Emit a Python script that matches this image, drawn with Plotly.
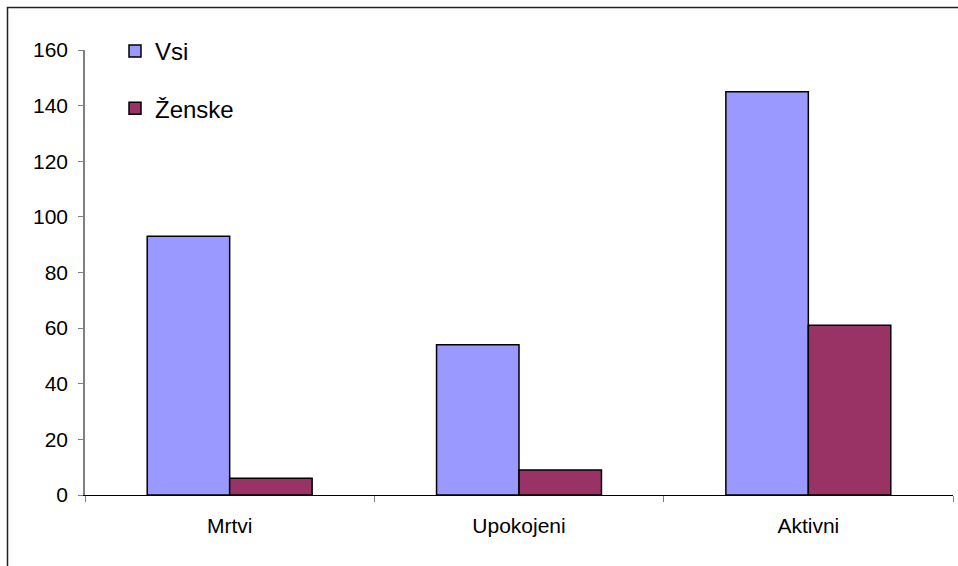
import plotly.graph_objects as go

categories = ["Mrtvi", "Upokojeni", "Aktivni"]
vsi = [93, 54, 145]
zenske = [6, 9, 61]
series_names = ["Vsi", "Ženske"]
y_ticks = [0, 20, 40, 60, 80, 100, 120, 140, 160]

W, H = 958, 566
L, R, T, B = 85, 5, 50, 71
pw, ph = W - L - R, H - T - B

def px_x(x):
    return (x - L) / pw

def px_y(y):
    return (H - B - y) / ph

fig = go.Figure()
fig.add_trace(go.Bar(x=categories, y=vsi, name=series_names[0], legendgroup="a",
                     marker=dict(color="#9999FF", line=dict(color="black", width=1.5))))
fig.add_trace(go.Bar(x=categories, y=zenske, name=series_names[1], legendgroup="b",
                     marker=dict(color="#993366", line=dict(color="black", width=1.5))))

fig.update_layout(
    width=W, height=H,
    margin=dict(l=L, r=R, t=T, b=B),
    paper_bgcolor="white", plot_bgcolor="white",
    barmode="group", bargap=0.43, bargroupgap=0,
    font=dict(family="Liberation Sans, Arial, sans-serif", color="black", size=21),
    legend=dict(x=px_x(115), y=px_y(29), xanchor="left", yanchor="top",
                font=dict(size=24), tracegroupgap=23, bgcolor="rgba(0,0,0,0)",
                itemwidth=30),
    showlegend=True,
    xaxis=dict(type="category", showline=True, linecolor="black", linewidth=1,
               ticks="outside", tickson="boundaries", ticklen=6, tickcolor="#808080",
               showgrid=False, zeroline=False, tickfont=dict(size=21),
               ticklabelstandoff=12),
    yaxis=dict(range=[0, 160], tickvals=y_ticks, showline=True, linecolor="#808080",
               linewidth=1.5, ticks="outside", ticklen=5, tickcolor="#808080",
               showgrid=False, zeroline=False, tickfont=dict(size=21),
               ticklabelstandoff=6),
    shapes=[dict(type="rect", xref="paper", yref="paper",
                 x0=px_x(7.5), x1=px_x(W + 20), y0=px_y(H + 20), y1=px_y(7.5),
                 line=dict(color="#222222", width=1.5), fillcolor="rgba(0,0,0,0)",
                 layer="below")],
)

fig.write_html("out.html", config={"displayModeBar": False},
               post_script="document.body.style.margin='0';")
